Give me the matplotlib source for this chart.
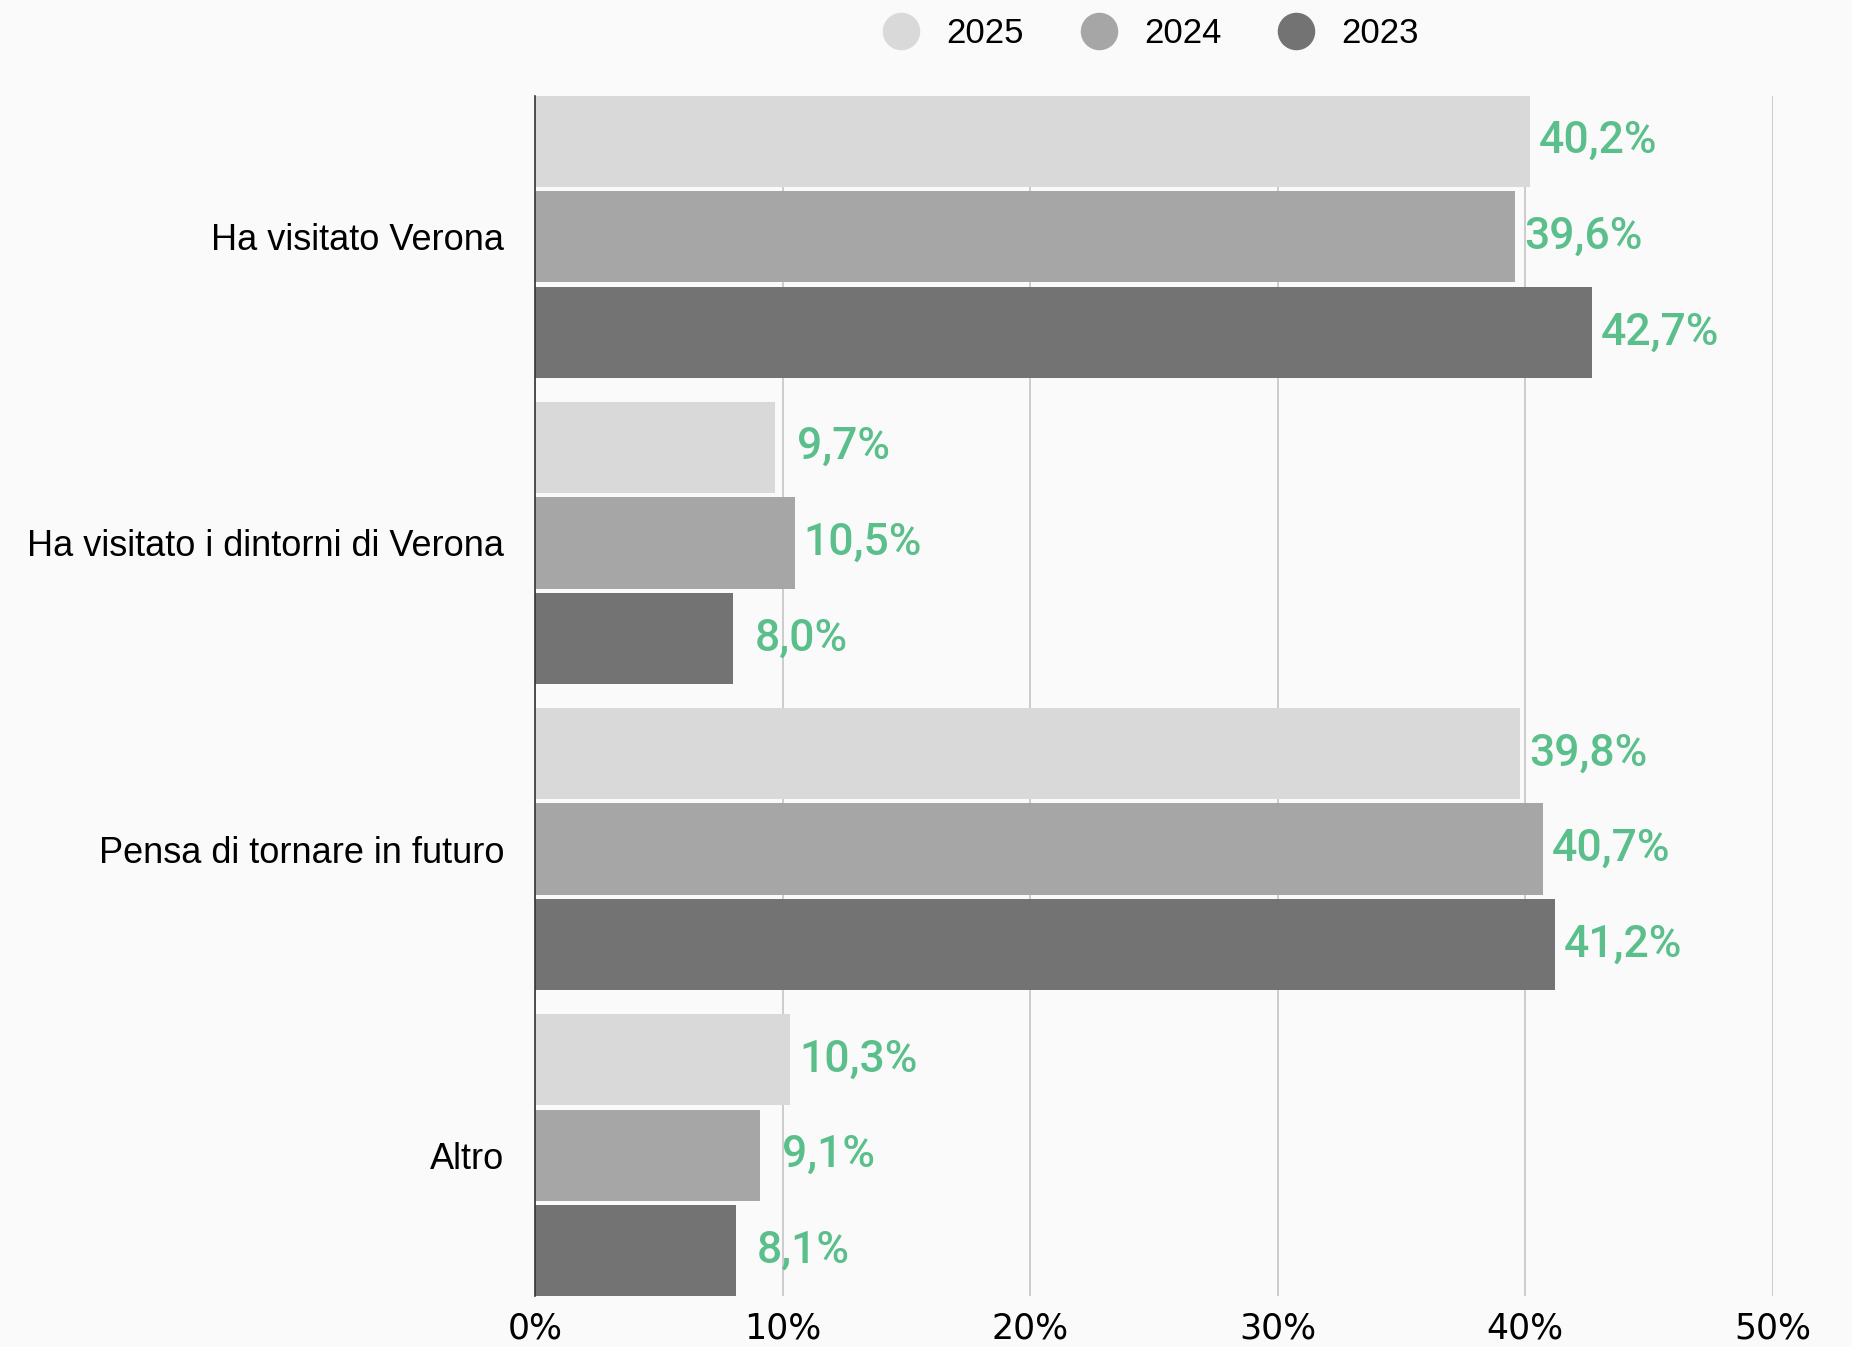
import numpy as np
import matplotlib.pyplot as plt
from matplotlib.lines import Line2D

# Data
categories = ['Ha visitato Verona', 'Ha visitato i dintorni di Verona',
              'Pensa di tornare in futuro', 'Altro']
years = ['2025', '2024', '2023']
values_2025 = [40.2, 9.7, 39.8, 10.3]
values_2024 = [39.6, 10.5, 40.7, 9.1]
values_2023 = [42.7, 8.0, 41.2, 8.1]
series = [values_2025, values_2024, values_2023]
colors = ['#d9d9d9', '#a6a6a6', '#737373']
xticks = [0, 10, 20, 30, 40, 50]

bg = '#fafafa'
green = '#5bbf8c'

fig = plt.figure(figsize=(18.52, 13.47), dpi=100, facecolor=bg)
ax = fig.add_axes([0.2889, 0.0379, 0.6684, 0.8908], facecolor=bg)

pitch = 0.313
bar_h = 0.298
y = np.arange(len(categories))

for i, (vals, col) in enumerate(zip(series, colors)):
    pos = y + (i - 1) * pitch
    ax.barh(pos, vals, height=bar_h, color=col, zorder=3)
    for p, v in zip(pos, vals):
        ax.annotate(f'{v:.1f}%'.replace('.', ','), (v, p),
                    xytext=(49, 0), textcoords='offset points',
                    ha='center', va='center', color=green,
                    fontsize=32, fontfamily='Roboto', fontweight='medium',
                    fontstretch='condensed', zorder=4)

ax.set_xlim(0, 50)
ax.set_ylim(3.46, -0.46)
ax.set_yticks(y)
ax.set_yticklabels(categories, fontsize=26, fontfamily='Liberation Sans')
ax.set_xticks(xticks)
ax.set_xticklabels([f'{t}%' for t in xticks], fontsize=25,
                   fontfamily='Liberation Sans Narrow')
ax.tick_params(axis='y', length=0, pad=22)
ax.tick_params(axis='x', length=0, pad=11)
ax.grid(axis='x', color='#c4c4c4', linewidth=1.2, zorder=0)
for s in ['top', 'right', 'bottom']:
    ax.spines[s].set_visible(False)
ax.spines['left'].set_color('#333333')
ax.spines['left'].set_linewidth(1.2)
ax.spines['left'].set_zorder(5)

handles = [Line2D([], [], marker='o', linestyle='none', markersize=26,
                  markerfacecolor=c, markeredgecolor=c) for c in colors]
fig.legend(handles, years, loc='center', bbox_to_anchor=(0.617, 0.975),
           ncol=3, frameon=False, handletextpad=0.3,
           columnspacing=1.15, prop={'family': 'Liberation Sans', 'size': 25})

fig.savefig('out.png', dpi=100, facecolor=bg)
